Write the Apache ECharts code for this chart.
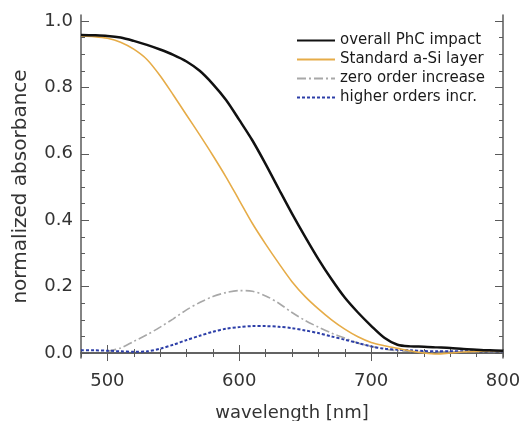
<!DOCTYPE html>
<html>
<head>
<meta charset="utf-8">
<script src="https://cdn.jsdelivr.net/npm/echarts@6/dist/echarts.min.js"></script>
<style>html,body{margin:0;padding:0;background:#fff}#c{width:520px;height:421px}</style>
</head>
<body>
<div id="c"></div>
<script>
var wavelengths = [480,490,500,510,520,530,540,550,560,570,580,590,600,610,620,630,640,650,660,670,680,690,700,710,720,730,740,750,760,770,780,790,800];
var overallPhC = [0.958,0.957,0.955,0.950,0.940,0.928,0.914,0.898,0.878,0.850,0.810,0.762,0.702,0.640,0.569,0.494,0.420,0.350,0.283,0.222,0.167,0.122,0.082,0.046,0.025,0.020,0.019,0.017,0.015,0.012,0.010,0.008,0.007];
var standardASi = [0.955,0.953,0.948,0.936,0.915,0.884,0.835,0.777,0.717,0.657,0.595,0.530,0.460,0.390,0.328,0.270,0.215,0.170,0.133,0.100,0.072,0.049,0.032,0.022,0.014,0.006,0.000,-0.003,0.000,0.003,0.005,0.006,0.006];
var zeroOrder = [null,null,0.005,0.015,0.035,0.055,0.078,0.103,0.130,0.152,0.170,0.182,0.188,0.186,0.172,0.150,0.122,0.098,0.078,0.060,0.045,0.030,0.020,0.012,0.007,0.005,0.004,0.004,0.004,0.004,0.004,0.004,0.004];
var higherOrders = [0.008,0.008,0.007,0.005,0.004,0.005,0.013,0.025,0.039,0.052,0.064,0.073,0.078,0.081,0.081,0.079,0.075,0.068,0.060,0.050,0.040,0.030,0.020,0.013,0.010,0.008,0.006,0.005,0.005,0.005,0.005,0.005,0.005];
var seriesNames = ['overall PhC impact','Standard a-Si layer','zero order increase','higher orders incr.'];
var xLabelValues = [500,600,700,800];
var yLabelValues = [0,0.2,0.4,0.6,0.8,1.0];
var yMinorValues = [0,0.05,0.1,0.15,0.2,0.25,0.3,0.35,0.4,0.45,0.5,0.55,0.6,0.65,0.7,0.75,0.8,0.85,0.9,0.95,1.0];

function pairs(ys){ return wavelengths.map(function(x,i){ return [x, ys[i]]; }); }

var FONT = 'DejaVu Sans, sans-serif';
var AX = '#5a5a5a';
function xAx(pos, opts){
  var a = {type:'value', position:pos, min:480, max:800, interval:20,
    axisLine:{show:true, lineStyle:{color:AX, width:1.5}},
    axisTick:{show:true, inside:true, length:4, lineStyle:{color:AX, width:1}},
    axisLabel:{show:false}, splitLine:{show:false}};
  return Object.assign(a, opts||{});
}
function yAx(pos, opts){
  var a = {type:'value', position:pos, min:-0.015, max:1.018,
    axisLine:{show:true, lineStyle:{color:AX, width:1.5}},
    axisTick:{show:true, inside:true, length:4, customValues:yMinorValues, lineStyle:{color:AX, width:1}},
    axisLabel:{show:false}, splitLine:{show:false}};
  return Object.assign(a, opts||{});
}
var majorXTick = {show:true, inside:true, length:8, customValues:[500,600,700], lineStyle:{color:AX, width:1}};
var majorYTick = {show:true, inside:true, length:8, customValues:yLabelValues, lineStyle:{color:AX, width:1}};

var chart = echarts.init(document.getElementById('c'));
chart.setOption({
  backgroundColor:'#fff',
  animation:false,
  textStyle:{fontFamily:FONT},
  grid:{left:81, right:17, top:15, bottom:63, containLabel:false, outerBoundsMode:'none'},
  legend:{
    data:seriesNames, orient:'vertical', left:296, top:33, padding:0,
    itemWidth:38, itemHeight:10, itemGap:4,
    itemStyle:{opacity:0},
    textStyle:{fontSize:15, color:'#1a1a1a', fontFamily:FONT, lineHeight:15}
  },
  xAxis:[
    xAx('bottom', {
      name:'wavelength [nm]', nameLocation:'middle', nameGap:46,
      nameTextStyle:{fontSize:18, color:'#333', fontFamily:FONT},
      axisLabel:{show:true, customValues:xLabelValues, fontSize:18, color:'#333', margin:14, fontFamily:FONT}
    }),
    xAx('top'),
    xAx('bottom', {axisLine:{show:false}, axisTick:majorXTick}),
    xAx('top', {axisLine:{show:false}, axisTick:majorXTick})
  ],
  yAxis:[
    yAx('left', {
      name:'normalized absorbance', nameLocation:'middle', nameGap:50,
      nameTextStyle:{fontSize:20, color:'#333', fontFamily:FONT},
      axisLabel:{show:true, customValues:yLabelValues, fontSize:18, color:'#333', margin:8, fontFamily:FONT,
        formatter:function(v){ return v.toFixed(1); }}
    }),
    yAx('right'),
    yAx('left', {axisLine:{show:false}, axisTick:majorYTick}),
    yAx('right', {axisLine:{show:false}, axisTick:majorYTick})
  ],
  series:[
    {name:seriesNames[0], type:'line', data:pairs(overallPhC), showSymbol:false, symbol:'none', smooth:0.3, z:5,
      lineStyle:{color:'#111111', width:2.5}, itemStyle:{color:'#111111'}},
    {name:seriesNames[1], type:'line', data:pairs(standardASi), showSymbol:false, symbol:'none', smooth:0.3, z:4,
      lineStyle:{color:'#e6ac48', width:1.6}, itemStyle:{color:'#e6ac48'}},
    {name:seriesNames[2], type:'line', data:pairs(zeroOrder), showSymbol:false, symbol:'none', smooth:0.3, z:3,
      lineStyle:{color:'#a8a8a8', width:1.6, type:[9,3,2,3]}, itemStyle:{color:'#a8a8a8'}},
    {name:seriesNames[3], type:'line', data:pairs(higherOrders), showSymbol:false, symbol:'none', smooth:0.3, z:3,
      lineStyle:{color:'#2c3ea8', width:2, type:[3,2]}, itemStyle:{color:'#2c3ea8'}}
  ]
});
</script>
</body>
</html>
